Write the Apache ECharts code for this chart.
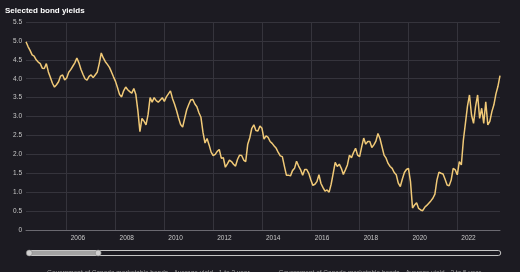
<!DOCTYPE html>
<html>
<head>
<meta charset="utf-8">
<script src="https://cdn.jsdelivr.net/npm/echarts@6/dist/echarts.min.js"></script>
<style>
html,body{margin:0;padding:0;background:#1c1b22;}
#chart{width:520px;height:272px;}
</style>
</head>
<body>
<div id="chart"></div>
<script>
const startYear = 2004, startMonth = 5;
const series1Name = 'Government of Canada marketable bonds - Average yield - 1 to 3 year';
const series2Name = 'Government of Canada marketable bonds - Average yield - 3 to 5 year';
const series1Values = [
  4.98, 4.85, 4.75, 4.63, 4.60, 4.50, 4.44, 4.40, 4.28, 4.27,
  4.40, 4.18, 4.03, 3.88, 3.78, 3.84, 3.92, 4.07, 4.10, 3.97,
  4.02, 4.17, 4.24, 4.33, 4.42, 4.55, 4.42, 4.25, 4.12, 4.00,
  3.96, 4.06, 4.10, 4.03, 4.10, 4.17, 4.40, 4.68, 4.55, 4.45,
  4.38, 4.30, 4.18, 4.05, 3.93, 3.76, 3.58,
  3.52, 3.68, 3.78, 3.71, 3.66, 3.62, 3.74, 3.58, 3.15, 2.60,
  2.95, 2.88, 2.78, 3.05, 3.50, 3.38, 3.50, 3.42, 3.38, 3.44,
  3.50, 3.40, 3.52, 3.60, 3.68, 3.48, 3.33, 3.16, 2.96, 2.79,
  2.72, 2.95, 3.18, 3.32, 3.44, 3.45, 3.33, 3.26, 3.10, 2.98,
  2.58, 2.30, 2.42, 2.25, 2.06, 1.97, 2.00, 2.08, 2.13,
  1.90, 1.91, 1.66, 1.75, 1.85, 1.81, 1.74, 1.69, 1.87, 1.98,
  1.97, 1.85, 1.81, 2.27, 2.44, 2.69, 2.78, 2.63, 2.62, 2.75,
  2.69, 2.40, 2.49, 2.45, 2.34, 2.29, 2.22, 2.16, 2.05, 1.96,
  1.94, 1.69, 1.45, 1.45, 1.43, 1.57, 1.63, 1.82, 1.69, 1.59,
  1.45, 1.60, 1.60, 1.50, 1.33, 1.18, 1.21,
  1.28, 1.46, 1.23, 1.12, 1.03, 1.06, 1.00,
  1.21, 1.50, 1.79, 1.68, 1.74, 1.63, 1.47, 1.59, 1.72, 1.98,
  1.91, 2.05, 2.16, 1.98, 1.94, 2.20, 2.43, 2.27, 2.34, 2.34,
  2.18, 2.25, 2.35, 2.55, 2.42, 2.20, 1.98, 1.90, 1.76, 1.68,
  1.63, 1.52, 1.46, 1.24, 1.15, 1.35, 1.52, 1.60, 1.63,
  1.28, 0.58, 0.66, 0.72, 0.57, 0.53, 0.51, 0.60, 0.65, 0.71,
  0.77, 0.84, 0.95, 1.32, 1.53, 1.50, 1.48, 1.34, 1.19, 1.17,
  1.32, 1.63, 1.59, 1.46, 1.81, 1.72, 2.38, 2.82, 3.27, 3.57,
  3.04, 2.82, 3.27, 3.57, 2.95, 3.22, 2.82, 3.39, 2.78, 2.87,
  3.13, 3.31, 3.60, 3.80, 4.08
];
const series2Values = []; // not visible in the reference
const xTickYears = ['2006','2008','2010','2012','2014','2016','2018','2020','2022'];
const yTickLabels = ['0','0.5','1.0','1.5','2.0','2.5','3.0','3.5','4.0','4.5','5.0','5.5'];

// month categories, one per value
const categories = series1Values.map(function(_, i){
  const m = startMonth - 1 + i;
  const y = startYear + Math.floor(m / 12);
  const mm = (m % 12) + 1;
  return y + '-' + (mm < 10 ? '0' + mm : '' + mm);
});

function isYearTick(index, value){
  return value.slice(5) === '01' && xTickYears.indexOf(value.slice(0,4)) >= 0;
}

const FONT = '"Liberation Sans", Arial, sans-serif';
const chart = echarts.init(document.getElementById('chart'), null, {renderer:'canvas'});
chart.setOption({
  backgroundColor: '#1c1b22',
  animation: false,
  title: {
    text: 'Selected bond yields', left: 0, top: 2,
    textStyle: {color:'#ffffff', fontSize: 8, fontWeight:'bold', fontFamily: FONT}
  },
  grid: {left: 26, right: 20, top: 22, bottom: 42, containLabel: false},
  legend: {
    data: [series1Name, series2Name],
    left: 27, top: 265, itemWidth: 10, itemHeight: 1.5, itemGap: 14,
    icon: 'rect',
    itemStyle: {color:'#8a8a8a'},
    textStyle: {color:'#9a9a9a', fontSize: 6.5, fontFamily: FONT, padding:[0,0,0,0]},
    selectedMode: false
  },
  xAxis: [{
    type: 'category', data: categories, boundaryGap: false,
    axisLine: {show: true, lineStyle: {color:'#6a6970', width: 1}},
    axisTick: {show: false},
    axisLabel: {
      interval: isYearTick, color:'#c8c8c8', fontSize: 6.5, fontFamily: FONT,
      margin: 5, align: 'left', padding: [0,0,0,4],
      formatter: function(v){ return v.slice(0,4); }
    },
    splitLine: {show: true, interval: isYearTick, lineStyle: {color:'#35343c', width: 1}}
  }, {
    type: 'value', min: 0, max: 100, show: false
  }],
  yAxis: {
    type: 'value', min: 0, max: 5.5, interval: 0.5,
    axisLine: {show: false}, axisTick: {show: false},
    axisLabel: {
      color:'#c8c8c8', fontSize: 6.5, fontFamily: FONT, margin: 4,
      formatter: function(v){ return yTickLabels[Math.round(v / 0.5)]; }
    },
    splitLine: {lineStyle: {color:'#35343c', width: 1}}
  },
  dataZoom: [{
    type: 'slider', xAxisIndex: 1, start: 0, end: 15,
    left: 27, right: 20, top: 250, height: 6,
    backgroundColor: '#1c1b22', borderColor: '#c4c4c4', borderRadius: 3,
    fillerColor: '#a3a3a3',
    dataBackground: {lineStyle:{opacity:0}, areaStyle:{opacity:0}},
    selectedDataBackground: {lineStyle:{opacity:0}, areaStyle:{opacity:0}},
    handleIcon: 'circle', handleSize: '100%',
    handleStyle: {color:'#d0d0d0', borderColor:'#777', borderWidth: 0.5},
    moveHandleSize: 0, moveHandleStyle: {opacity: 0},
    showDetail: false, showDataShadow: false, brushSelect: false, zoomLock: true,
    textStyle: {color:'transparent'}
  }],
  series: [{
    name: series1Name, type: 'line', data: series1Values,
    symbol: 'none', smooth: false,
    lineStyle: {color:'#f0c977', width: 1.5},
    itemStyle: {color:'#f0c977'}
  }, {
    name: series2Name, type: 'line', data: series2Values,
    symbol: 'none',
    lineStyle: {color:'#8a8a8a', width: 1.3},
    itemStyle: {color:'#8a8a8a'}
  }]
});
</script>
</body>
</html>
